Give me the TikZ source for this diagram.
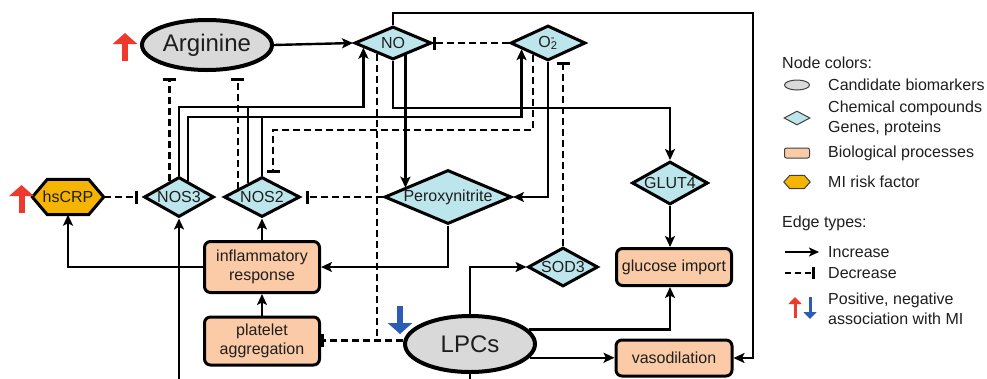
\documentclass[tikz,border=0pt]{standalone}
\usepackage{fontspec}
\setmainfont{Liberation Sans}
\usetikzlibrary{shapes.geometric,arrows.meta,backgrounds}
\definecolor{diafill}{HTML}{BDE5EC}
\definecolor{boxfill}{HTML}{FACBA6}
\definecolor{ellfill}{HTML}{D9D9D9}
\definecolor{hexfill}{HTML}{F5B400}
\definecolor{upred}{HTML}{EE3A2C}
\definecolor{downblue}{HTML}{2B5CB8}
\definecolor{txt}{HTML}{1E1E1E}
\definecolor{iconline}{HTML}{404040}
\newcommand\zb[1]{\makebox[0pt]{#1}}
\newcommand\nodefont{\fontsize{16}{19}\selectfont}
\newcommand\bigfont{\fontsize{24}{28}\selectfont}
\begin{document}
\begin{tikzpicture}[x=1pt,y=-1pt,
  edge/.style={line width=2.4pt, draw=black},
  inc/.style={edge, -{Stealth[length=11pt,width=10pt,inset=2.5pt]}},
  dec/.style={edge, dash pattern=on 7pt off 4pt, -{Bar[width=13pt,line width=3pt]}},
  dashline/.style={edge, dash pattern=on 7pt off 4pt},
  dia/.style={diamond, draw=black, line width=3pt, fill=diafill, inner sep=0pt, font=\nodefont, text=txt},
  ell/.style={ellipse, draw=black, line width=4pt, fill=ellfill, inner sep=0pt, minimum width=130pt, font=\bigfont, text=txt},
  procbox/.style={rectangle, rounded corners=6pt, draw=black, line width=3pt, fill=boxfill, align=center, inner sep=0pt, font=\nodefont, text=txt},
  legtxt/.style={anchor=west, inner sep=0pt, font=\nodefont, text=txt, align=left},
  bigup/.style={line width=6pt, draw=upred, -{Triangle[width=24pt,length=11pt]}},
  bigdown/.style={line width=6pt, draw=downblue, -{Triangle[width=24pt,length=11pt]}},
  smallup/.style={line width=3pt, draw=upred, -{Triangle[width=13pt,length=7pt]}},
  smalldown/.style={line width=3pt, draw=downblue, -{Triangle[width=13pt,length=7pt]}},
  icon/.style={draw=iconline, line width=1pt, inner sep=0pt}
]
\useasboundingbox (0,0) rectangle (987,378);

% ---------- nodes ----------
\node[ell, minimum height=50pt] (Arg) at (207,45) {\zb{Arginine}};
\node[ell, minimum height=56pt] (LPCs) at (470,344) {\zb{LPCs}};
\node[dia, minimum width=77pt, minimum height=33pt] (NO) at (393,43) {\zb{NO}};
\node[dia, minimum width=75pt, minimum height=35pt] (O2) at (548,43) {\zb{O\rlap{\textsuperscript{-}}\textsubscript{2}}};
\node[dia, minimum width=70pt, minimum height=40pt] (NOS3) at (179,197) {\zb{NOS3}};
\node[dia, minimum width=76pt, minimum height=40pt] (NOS2) at (262,197) {\zb{NOS2}};
\node[dia, minimum width=127pt, minimum height=54pt] (Perox) at (448,197) {\zb{Peroxynitrite}};
\node[dia, minimum width=76pt, minimum height=43pt] (GLUT4) at (670,183) {\zb{GLUT4}};
\node[dia, minimum width=70pt, minimum height=39pt] (SOD3) at (563,267) {\zb{SOD3}};
\node[procbox, minimum width=115pt, minimum height=51pt] (infl) at (262,267) {inflammatory\\response};
\node[procbox, minimum width=115pt, minimum height=48pt] (plat) at (262,341) {platelet\\aggregation};
\node[procbox, minimum width=115pt, minimum height=37pt] (gluc) at (674,267) {glucose import};
\node[procbox, minimum width=116pt, minimum height=36pt] (vaso) at (674,358) {vasodilation};
\node[inner sep=0pt, minimum width=71pt, minimum height=35pt, font=\nodefont, text=txt] (hsCRP) at (68,197) {hsCRP};
\begin{scope}[on background layer]
\fill[white] (0,0) rectangle (987,378);
\draw[line width=3pt, fill=hexfill] ([xshift=15pt]hsCRP.north west) -- ([xshift=-15pt]hsCRP.north east) -- (hsCRP.east) -- ([xshift=-15pt]hsCRP.south east) -- ([xshift=15pt]hsCRP.south west) -- (hsCRP.west) -- cycle;
\end{scope}

% helper coordinates
\coordinate (bot) at (0,379);
\coordinate (y107) at (0,107);
\coordinate (y117) at (0,117);
\coordinate (cNE) at (753,13);
\coordinate (cNG) at (670,108);
\coordinate (cOd) at (273,130);

% ---------- edges ----------
\draw[inc] (Arg.east) -- (NO.west);
\draw[dec] (O2.west) -- (NO.east);
\draw[inc] (NO.north) |- (cNE) |- (vaso.east);
\draw[inc] (NO.south) |- (cNG) -- (GLUT4.north);
\draw[inc] (NO.-45) -- (NO.-45 |- Perox.168);
\draw[inc] (O2.south) |- (Perox.east);
\draw[dec] (SOD3.north) -- (SOD3.north |- O2.south);
\draw[inc] (LPCs.north) |- (SOD3.west);
\draw[inc] (LPCs.14) -| (GLUT4.south |- gluc.south);
\draw[inc] (GLUT4.south) -- (GLUT4.south |- gluc.north);
\draw[inc] (LPCs.-13) -- (vaso.west |- LPCs.-13);
\draw[edge] (LPCs.south) -- (LPCs.south |- bot);
\draw[inc] (NOS3.south |- bot) -- (NOS3.south);
\draw[dec] (LPCs.177) -- (plat.east |- LPCs.177);
\draw[dashline] (NO.-146) -- (NO.-146 |- LPCs.177);
\draw[inc] (NOS3.north) |- (NO.189 |- y107) -- (NO.189);
\draw[inc] (NOS3.62) |- (O2.193 |- y117) -- (O2.193);
\draw[edge] (NOS2.135) -- (NOS2.135 |- y107);
\draw[edge] (NOS2.north) -- (NOS2.north |- y117);
\draw[dec] (O2.218) |- (cOd) -- ++(0,43);
\draw[dec, shorten >=4pt] (Perox.west) -- (NOS2.east);
\draw[dec, shorten >=5pt] (hsCRP.east) -- (NOS3.west);
\draw[dec, shorten >=6pt] (NOS3.121) -- (NOS3.121 |- Arg.south);
\draw[dec, shorten >=6pt] (NOS2.161) -- (NOS2.161 |- Arg.south);
\draw[inc] (infl.north) -- (NOS2.south);
\draw[inc] (plat.north) -- (infl.south);
\draw[inc] (infl.west) -| (hsCRP.south);
\draw[inc] (Perox.south) |- (infl.east);

% association arrows
\coordinate (ra1) at (125,61); \coordinate (ra2) at (125,33);
\coordinate (rh1) at (21.5,213); \coordinate (rh2) at (21.5,185);
\coordinate (bl1) at (400,306); \coordinate (bl2) at (400,334);
\draw[bigup] (ra1) -- (ra2);
\draw[bigup] (rh1) -- (rh2);
\draw[bigdown] (bl1) -- (bl2);

% ---------- legend ----------
\node[legtxt] (lgNC) at (782,63) {Node colors:};
\node[icon, ellipse, fill=ellfill, minimum width=25pt, minimum height=10pt] (iEll) at (797,85) {};
\node[legtxt] (lgCB) at (828,85) {Candidate biomarkers};
\node[icon, diamond, fill=diafill, minimum width=26pt, minimum height=14pt] (iDia) at (797,118) {};
\node[legtxt, font=\fontsize{16}{20}\selectfont] (lgCC) at (828,118) {Chemical compounds\\Genes, proteins};
\node[icon, rectangle, rounded corners=2pt, fill=boxfill, minimum width=25pt, minimum height=10pt] (iBox) at (797,153) {};
\node[legtxt] (lgBP) at (828,153) {Biological processes};
\node[minimum width=26pt, minimum height=13pt, inner sep=0pt] (iHex) at (797,182) {};
\draw[icon, fill=hexfill] ([xshift=6pt]iHex.north west) -- ([xshift=-6pt]iHex.north east) -- (iHex.east) -- ([xshift=-6pt]iHex.south east) -- ([xshift=6pt]iHex.south west) -- (iHex.west) -- cycle;
\node[legtxt] (lgMI) at (828,182) {MI risk factor};
\node[legtxt] (lgET) at (782,223) {Edge types:};
\coordinate (li1) at (785,252); \coordinate (li2) at (819,252);
\draw[line width=2.4pt, -{Stealth[length=10pt,width=9pt,inset=2.5pt]}] (li1) -- (li2);
\node[legtxt] (lgIn) at (828,252) {Increase};
\coordinate (ld1) at (785,273); \coordinate (ld2) at (815,273);
\draw[line width=2.4pt, dash pattern=on 6pt off 4pt, -{Bar[width=12pt,line width=2.8pt]}] (ld1) -- (ld2);
\node[legtxt] (lgDe) at (828,273) {Decrease};
\coordinate (lr1) at (795,318); \coordinate (lr2) at (795,297);
\coordinate (lb1) at (810,297); \coordinate (lb2) at (810,319);
\draw[smallup] (lr1) -- (lr2);
\draw[smalldown] (lb1) -- (lb2);
\node[legtxt, font=\fontsize{16}{20}\selectfont] (lgPN) at (828,309) {Positive, negative\\association with MI};
\end{tikzpicture}
\end{document}
